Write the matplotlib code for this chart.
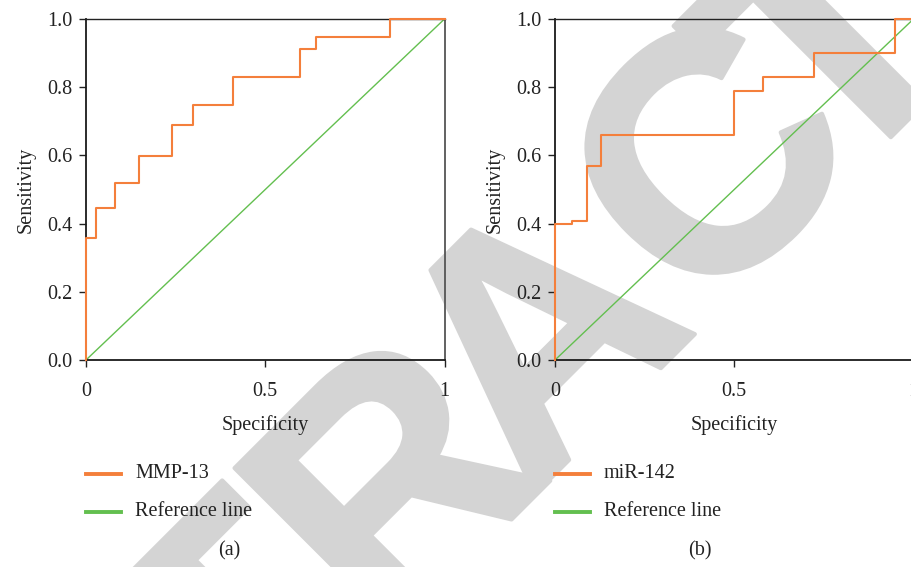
import numpy as np
import matplotlib
matplotlib.use("Agg")
import matplotlib.pyplot as plt
import matplotlib.patheffects as pe

# ROC step points (x = 1 - specificity style axis, y = sensitivity)
mmp13_x = [0, 0, 0.029, 0.081, 0.148, 0.239, 0.299, 0.410, 0.598, 0.641, 0.849, 1.0]
mmp13_y = [0, 0.359, 0.447, 0.518, 0.598, 0.689, 0.748, 0.831, 0.911, 0.948, 1.0, 1.0]

mir142_x = [0, 0, 0.047, 0.088, 0.128, 0.498, 0.579, 0.722, 0.949, 1.0]
mir142_y = [0, 0.399, 0.409, 0.569, 0.661, 0.788, 0.830, 0.901, 1.0, 1.0]

ref_x = [0, 1]
ref_y = [0, 1]

y_ticks = [0.0, 0.2, 0.4, 0.6, 0.8, 1.0]
y_labels = ["0.0", "0.2", "0.4", "0.6", "0.8", "1.0"]
x_ticks = [0, 0.5, 1]
x_labels = ["0", "0.5", "1"]

series_names = ["MMP-13", "miR-142"]
panel_tags = ["(a)", "(b)"]

orange = "#f47f3b"
green = "#63bf4f"

W, H = 911, 567
plt.rcParams['font.family'] = ['Liberation Serif', 'DejaVu Serif']
fig = plt.figure(figsize=(W / 100, H / 100), dpi=100)

# RETRACTED stamp in the background (letter, baseline centre in pixels)
stamp_letters = ["T", "R", "A", "C", "T", "E", "D"]
stamp_pos = [(316, 715), (469, 562), (615, 414), (787, 238), (908, 120), (1058, -30), (1210, -180)]
stamp_col = '#d4d4d4'
for ch, (px, py) in zip(stamp_letters, stamp_pos):
    fig.text(px / W, 1 - py / H, ch, fontsize=243, family='Liberation Sans',
             fontweight='bold', color=stamp_col, rotation=45,
             rotation_mode='anchor', ha='center', va='baseline', zorder=-5,
             path_effects=[pe.withStroke(linewidth=3, foreground=stamp_col)])


def roc_panel(left_px, xs, ys, name, tag, tag_x):
    ax = fig.add_axes([left_px / W, 1 - 360 / H, 358.5 / W, 341 / H])
    ax.patch.set_alpha(0)
    ax.step(xs, ys, where='post', color=orange, lw=1.5, clip_on=False, zorder=3)
    ax.plot(ref_x, ref_y, color=green, lw=1.0, clip_on=False, zorder=2)
    ax.set_xlim(0, 1)
    ax.set_ylim(0, 1)
    ax.set_xticks(x_ticks)
    ax.set_xticklabels(x_labels)
    ax.set_yticks(y_ticks)
    ax.set_yticklabels(y_labels)
    ax.tick_params(axis='x', length=5, width=1, pad=11, labelsize=14.5, colors='#222222')
    ax.tick_params(axis='y', length=5, width=1, pad=5, labelsize=14.5, colors='#222222')
    for s in ['left', 'bottom']:
        ax.spines[s].set_linewidth(1.3)
        ax.spines[s].set_color('#1a1a1a')
    ax.spines['top'].set_linewidth(1.0)
    ax.spines['top'].set_color('#222222')
    ax.spines['right'].set_linewidth(1.3)
    ax.spines['right'].set_color('#555555')
    ax.set_xlabel("Specificity", fontsize=14.5, color='#222222', labelpad=10)
    ax.set_ylabel("Sensitivity", fontsize=14.5, color='#222222', labelpad=8)

    # legend drawn below the axes
    x0 = left_px / W
    x1 = (left_px + 35) / W
    for label, col, py in [(name, orange, 474), ("Reference line", green, 512)]:
        fig.add_artist(plt.Line2D([x0, x1], [1 - py / H, 1 - py / H], color=col, lw=2.8,
                                  transform=fig.transFigure))
        fig.text((left_px + 49) / W, 1 - py / H, label, fontsize=14.5, color='#222222',
                 va='center', ha='left')
    fig.text(tag_x / W, 1 - 551 / H, tag, fontsize=14.5, color='#222222',
             ha='center', va='center')
    return ax


roc_panel(86, mmp13_x, mmp13_y, series_names[0], panel_tags[0], 229)
roc_panel(555, mir142_x, mir142_y, series_names[1], panel_tags[1], 700)

fig.savefig("out.png", dpi=100)
